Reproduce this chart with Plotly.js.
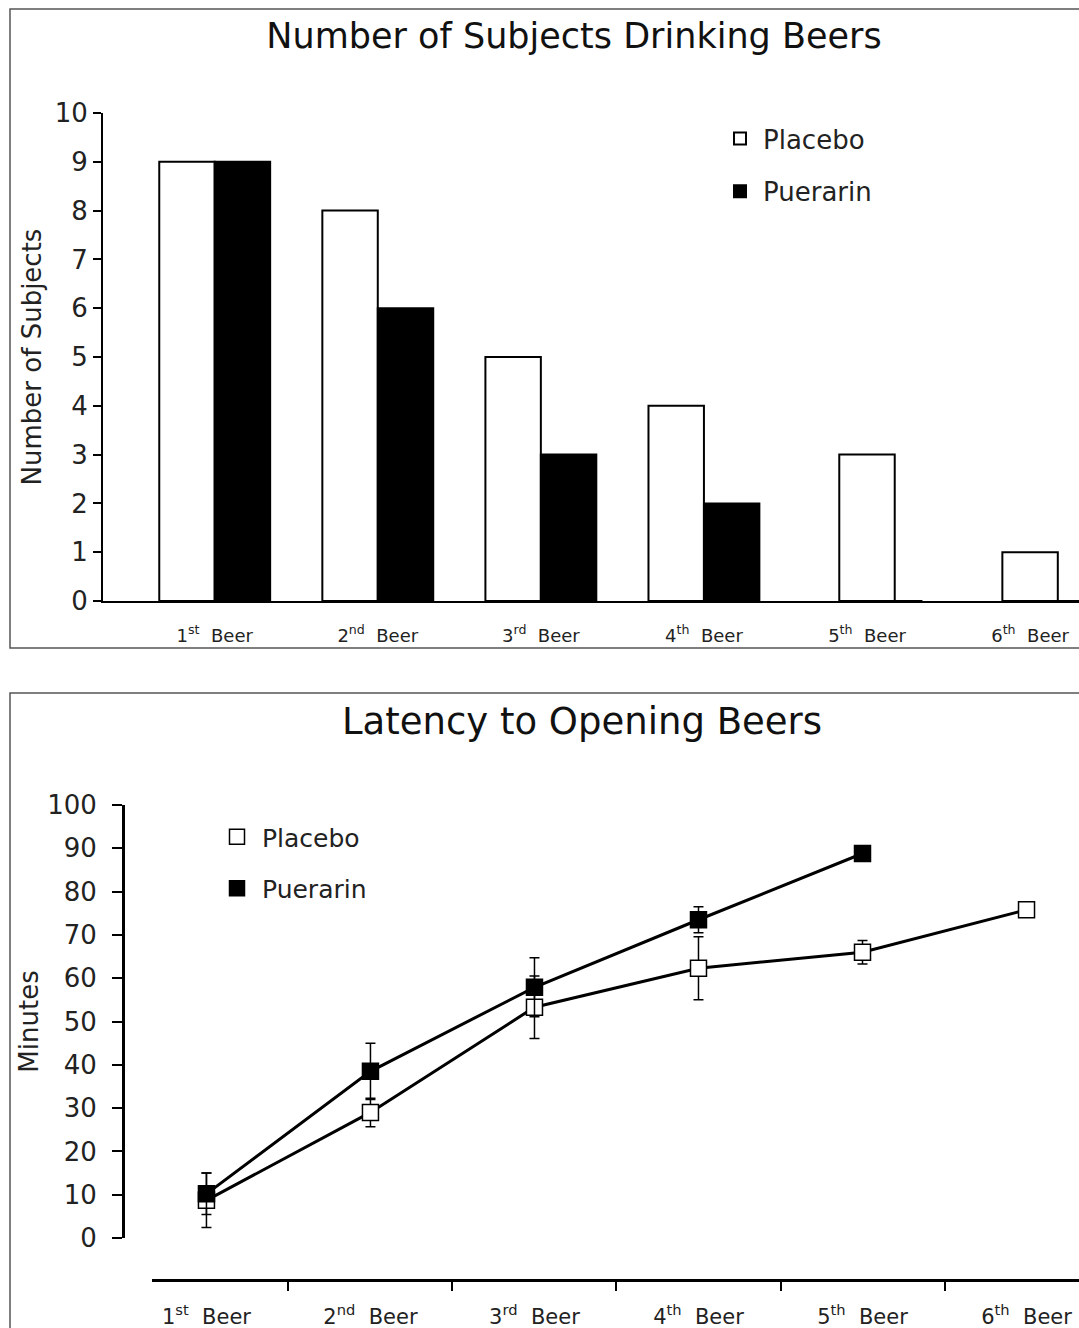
<!DOCTYPE html>
<html><head><meta charset="utf-8">
<script src="https://cdn.plot.ly/plotly-3.0.1.min.js"></script>
<style>
html,body{margin:0;padding:0;background:#fff;}
#top{position:absolute;left:0;top:0;width:1079px;height:660px;}
#bottom{position:absolute;left:0;top:660px;width:1079px;height:668px;}
</style></head><body>
<div id="top"></div><div id="bottom"></div>
<script>
// ---- data ----
const categories = ['1st Beer', '2nd Beer', '3rd Beer', '4th Beer', '5th Beer', '6th Beer'];
const tickLabels = ['1<sup>st</sup>  Beer', '2<sup>nd</sup>  Beer', '3<sup>rd</sup>  Beer', '4<sup>th</sup>  Beer', '5<sup>th</sup>  Beer', '6<sup>th</sup>  Beer'];
const seriesNames = ['Placebo', 'Puerarin'];
const subjectsPlacebo = [9, 8, 5, 4, 3, 1];
const subjectsPuerarin = [9, 6, 3, 2, 0, 0];
const latencyPlacebo = [8.7, 29, 53.3, 62.3, 66, 75.8];
const latencyPlaceboErr = [6.3, 3.3, 7.2, 7.3, 2.7, null];
const latencyPuerarin = [10.2, 38.5, 57.9, 73.5, 88.8, null];
const latencyPuerarinErr = [4.8, 6.5, 6.8, 3.0, null, null];
const title1 = 'Number of Subjects Drinking Beers';
const title2 = 'Latency to Opening Beers';

const FONT = 'DejaVu Sans, Verdana, sans-serif';
const BW = 0.34;

// ---- top chart: bars ----
const placeboOffset = subjectsPuerarin.map(v => v > 0 ? -BW : -BW / 2);
const barTraces = [
  {type: 'bar', name: seriesNames[0], x: categories, y: subjectsPlacebo,
   width: BW, offset: placeboOffset, legendgroup: 'a',
   marker: {color: '#ffffff', line: {color: '#000', width: 2}}},
  {type: 'bar', name: seriesNames[1], x: categories, y: subjectsPuerarin,
   width: BW, offset: 0, legendgroup: 'b',
   marker: {color: '#000000', line: {color: '#000', width: 2}}}
];
const L1 = {l: 103, r: 0, t: 113, b: 59, W: 1079, H: 660};
const pw1 = L1.W - L1.l - L1.r, ph1 = L1.H - L1.t - L1.b;
const px1 = X => (X - L1.l) / pw1, py1 = Y => (L1.H - L1.b - Y) / ph1;
const layout1 = {
  width: L1.W, height: L1.H,
  margin: {l: L1.l, r: L1.r, t: L1.t, b: L1.b},
  paper_bgcolor: '#fff', plot_bgcolor: '#fff',
  font: {family: FONT, color: '#111'},
  barmode: 'overlay',
  title: {text: title1, font: {size: 35, family: FONT, color: '#111'},
          xref: 'container', x: 574 / 1079, xanchor: 'center',
          yref: 'container', y: 1 - 36 / 660, yanchor: 'middle'},
  xaxis: {type: 'category', range: [-0.685, 5.30], tickvals: categories, ticktext: tickLabels,
          showline: true, linecolor: '#000', linewidth: 2, ticks: '', showgrid: false, zeroline: false,
          tickfont: {size: 18, family: FONT, color: '#222'}, ticklabelstandoff: 17},
  yaxis: {range: [0, 10], dtick: 1, showline: true, linecolor: '#000', linewidth: 2,
          ticks: 'outside', ticklen: 8, tickwidth: 2, tickcolor: '#000', showgrid: false, zeroline: false,
          tickfont: {size: 26, family: FONT, color: '#222'},
          title: {text: 'Number of Subjects', font: {size: 26, family: FONT, color: '#222'}, standoff: 6}},
  showlegend: true,
  legend: {x: px1(717), y: py1(115), xanchor: 'left', yanchor: 'top', traceorder: 'grouped',
           itemwidth: 36, tracegroupgap: 16, font: {size: 26, family: FONT, color: '#222'}, bgcolor: 'rgba(0,0,0,0)'},
  shapes: [{type: 'rect', xref: 'paper', yref: 'paper', x0: px1(10), x1: px1(1100), y0: py1(648), y1: py1(9),
            line: {color: '#555', width: 1.5}, fillcolor: 'rgba(0,0,0,0)', layer: 'below'}]
};
Plotly.newPlot('top', barTraces, layout1, {displayModeBar: false, staticPlot: true});

// ---- bottom chart: lines ----
const L2 = {l: 123, r: 0, t: 145, b: 48, W: 1079, H: 668, top: 660};
const pw2 = L2.W - L2.l - L2.r, ph2 = L2.H - L2.t - L2.b;
// Y given in page pixels
const px2 = X => (X - L2.l) / pw2, py2 = Y => (L2.H - L2.b - (Y - L2.top)) / ph2;
const markerSize = 16;
const lineTraces = [
  {type: 'scatter', mode: 'lines+markers', name: seriesNames[0], x: categories, y: latencyPlacebo,
   showlegend: false, line: {color: '#000', width: 3},
   marker: {symbol: 'square', size: markerSize, color: '#fff', line: {color: '#000', width: 1.5}},
   error_y: {type: 'data', array: latencyPlaceboErr, visible: true, color: '#000', thickness: 1.5, width: 5}},
  {type: 'scatter', mode: 'lines+markers', name: seriesNames[1], x: categories, y: latencyPuerarin,
   showlegend: false, line: {color: '#000', width: 3},
   marker: {symbol: 'square', size: markerSize, color: '#000', line: {color: '#000', width: 1.5}},
   error_y: {type: 'data', array: latencyPuerarinErr, visible: true, color: '#000', thickness: 1.5, width: 5}},
  {type: 'scatter', mode: 'markers', name: seriesNames[0], x: [null], y: [null], legendgroup: 'a',
   marker: {symbol: 'square', size: 15, color: '#fff', line: {color: '#000', width: 1.5}}},
  {type: 'scatter', mode: 'markers', name: seriesNames[1], x: [null], y: [null], legendgroup: 'b',
   marker: {symbol: 'square', size: 15, color: '#000', line: {color: '#000', width: 1.5}}}
];
const layout2 = {
  width: L2.W, height: L2.H,
  margin: {l: L2.l, r: L2.r, t: L2.t, b: L2.b},
  paper_bgcolor: '#fff', plot_bgcolor: '#fff',
  font: {family: FONT, color: '#111'},
  title: {text: title2, font: {size: 37, family: FONT, color: '#111'},
          xref: 'container', x: 582 / 1079, xanchor: 'center',
          yref: 'container', y: 1 - 61 / 668, yanchor: 'middle'},
  xaxis: {type: 'category', domain: [px2(152), 1], anchor: 'free', position: 0,
          range: [-0.332, 5.32], tickvals: categories, ticktext: tickLabels, tickson: 'boundaries',
          ticks: 'outside', ticklen: 9, tickwidth: 2, tickcolor: '#000',
          showline: true, linecolor: '#000', linewidth: 2.5, showgrid: false, zeroline: false,
          tickfont: {size: 21, family: FONT, color: '#222'}, ticklabelstandoff: 17},
  yaxis: {domain: [py2(1238), 1], anchor: 'free', position: 0, range: [0, 100], dtick: 10,
          showline: true, linecolor: '#000', linewidth: 2.5,
          ticks: 'outside', ticklen: 10, tickwidth: 2, tickcolor: '#000', showgrid: false, zeroline: false,
          tickfont: {size: 26, family: FONT, color: '#222'}, ticklabelstandoff: 10,
          title: {text: 'Minutes', font: {size: 26, family: FONT, color: '#222'}, standoff: 0}},
  showlegend: true,
  legend: {x: px2(212), y: py2(814), xanchor: 'left', yanchor: 'top', traceorder: 'grouped',
           itemwidth: 40, tracegroupgap: 16, font: {size: 25, family: FONT, color: '#222'}, bgcolor: 'rgba(0,0,0,0)'},
  shapes: [{type: 'rect', xref: 'paper', yref: 'paper', x0: px2(10), x1: px2(1100), y0: py2(1400), y1: py2(693),
            line: {color: '#555', width: 1.5}, fillcolor: 'rgba(0,0,0,0)', layer: 'below'}]
};
Plotly.newPlot('bottom', lineTraces, layout2, {displayModeBar: false, staticPlot: true});
</script>
</body></html>
